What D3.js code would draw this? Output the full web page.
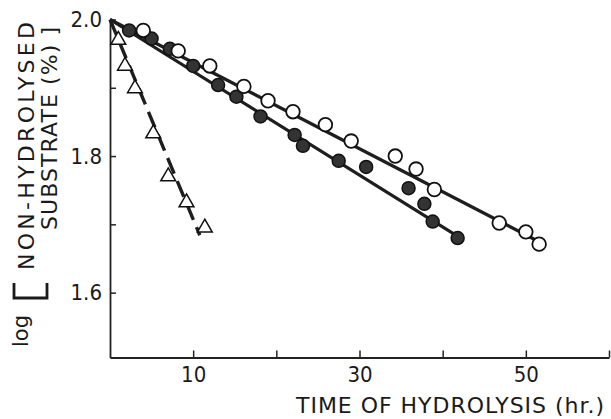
<!DOCTYPE html>
<html>
<head>
<meta charset="utf-8">
<script src="https://cdn.jsdelivr.net/npm/d3@7"></script>
<style>
  body { margin: 0; background: #fff; }
  text { font-family: "DejaVu Sans", sans-serif; fill: #1a1a1a; }
</style>
</head>
<body>
<div id="chart"></div>
<script>
// Donnees (temps en h, log % substrat non hydrolyse)
var ouverts = [
  [4.0, 1.984], [8.2, 1.954], [12.0, 1.932], [16.1, 1.902], [19.0, 1.881],
  [22.0, 1.865], [25.9, 1.846], [29.0, 1.822], [34.3, 1.800], [36.8, 1.781],
  [39.0, 1.751], [46.8, 1.702], [50.0, 1.689], [51.6, 1.671]
];
var pleins = [
  [2.3, 1.984], [5.0, 1.972], [7.2, 1.957], [10.0, 1.932], [13.0, 1.904],
  [15.2, 1.887], [18.1, 1.858], [22.2, 1.831], [23.2, 1.815], [27.5, 1.793],
  [30.8, 1.784], [35.9, 1.753], [37.8, 1.730], [38.8, 1.704], [41.8, 1.680]
];
var triangles = [
  [1.0, 1.970], [1.8, 1.932], [3.0, 1.899], [5.2, 1.833], [7.0, 1.770],
  [9.2, 1.732], [11.4, 1.695]
];
// droites tracees
var droiteOuverts = [[0, 2.0], [52, 1.672]];
var droitePleins = [[0, 2.0], [42.4, 1.678]];
var droiteTriangles = [[0, 2.0], [10.8, 1.684]];

var ticksX = [10, 20, 30, 40, 50, 60];
var etiquettesX = [10, 30, 50];
var ticksY = [1.6, 1.7, 1.8, 1.9, 2.0];
var etiquettesY = [1.6, 1.8, 2.0];

var largeur = 611, hauteur = 419;
var svg = d3.select("#chart").append("svg").attr("width", largeur).attr("height", hauteur);

var x = d3.scaleLinear().domain([0, 60]).range([110, 609]);
var y = d3.scaleLinear().domain([1.505, 2.0]).range([357.5, 19.5]);

// Axes
var axeX = d3.axisBottom(x).tickValues(ticksX).tickSizeInner(-7).tickSizeOuter(0).tickPadding(9)
  .tickFormat(function (d) { return etiquettesX.indexOf(d) >= 0 ? d : ""; });
var axeY = d3.axisLeft(y).tickValues(ticksY).tickSizeInner(-6).tickSizeOuter(0).tickPadding(8)
  .tickFormat(function (d) { return etiquettesY.indexOf(d) >= 0 ? d3.format(".1f")(d) : ""; });

var gx = svg.append("g").attr("transform", "translate(0," + y.range()[0] + ")").call(axeX);
var gy = svg.append("g").attr("transform", "translate(" + x.range()[0] + ",0)").call(axeY);
[gx, gy].forEach(function (g) {
  g.select(".domain").attr("stroke", "#222").attr("stroke-width", 1.8);
  g.selectAll(".tick line").attr("stroke", "#222").attr("stroke-width", 1.5);
  g.selectAll(".tick text").attr("font-size", 22).attr("fill", "#1a1a1a")
    .style("font-family", '"DejaVu Sans Condensed", "DejaVu Sans", sans-serif');
});

// Droites
var ligne = d3.line().x(function (d) { return x(d[0]); }).y(function (d) { return y(d[1]); });
svg.append("path").datum(droiteOuverts).attr("d", ligne)
  .attr("fill", "none").attr("stroke", "#1e1e1e").attr("stroke-width", 3.2);
svg.append("path").datum(droitePleins).attr("d", ligne)
  .attr("fill", "none").attr("stroke", "#1e1e1e").attr("stroke-width", 3.2);
svg.append("path").datum(droiteTriangles).attr("d", ligne)
  .attr("fill", "none").attr("stroke", "#1e1e1e").attr("stroke-width", 3.4)
  .attr("stroke-dasharray", "17,8");

// Points
svg.append("g").selectAll("circle").data(pleins).enter().append("circle")
  .attr("cx", function (d) { return x(d[0]); })
  .attr("cy", function (d) { return y(d[1]); })
  .attr("r", 6.5)
  .attr("fill", "#333").attr("stroke", "#111").attr("stroke-width", 1.5);

svg.append("g").selectAll("circle").data(ouverts).enter().append("circle")
  .attr("cx", function (d) { return x(d[0]); })
  .attr("cy", function (d) { return y(d[1]); })
  .attr("r", 6.8)
  .attr("fill", "#fff").attr("stroke", "#111").attr("stroke-width", 1.8);

var triangle = d3.symbol().type(d3.symbolTriangle).size(95);
svg.append("g").selectAll("path").data(triangles).enter().append("path")
  .attr("d", triangle)
  .attr("transform", function (d) { return "translate(" + x(d[0]) + "," + y(d[1]) + ")"; })
  .attr("fill", "#fff").attr("stroke", "#111").attr("stroke-width", 1.5);

// Titres des axes
svg.append("text")
  .attr("x", 296).attr("y", 413)
  .attr("font-size", 22)
  .attr("textLength", 308).attr("lengthAdjust", "spacing")
  .text("TIME OF HYDROLYSIS (hr.)");

svg.append("text")
  .attr("transform", "translate(28,347) rotate(-90)")
  .attr("font-size", 21)
  .text("log");
svg.append("text")
  .attr("transform", "translate(34,270) rotate(-90)")
  .attr("font-size", 22)
  .attr("textLength", 248).attr("lengthAdjust", "spacing")
  .text("NON-HYDROLYSED");
svg.append("text")
  .attr("transform", "translate(57,230) rotate(-90)")
  .attr("font-size", 22)
  .attr("textLength", 203).attr("lengthAdjust", "spacing")
  .text("SUBSTRATE (%) ]");

// grand crochet ouvrant
svg.append("path")
  .attr("d", "M14,283 L14,298 L47,298 L47,283")
  .attr("fill", "none").attr("stroke", "#1a1a1a").attr("stroke-width", 2.8);
</script>
</body>
</html>
